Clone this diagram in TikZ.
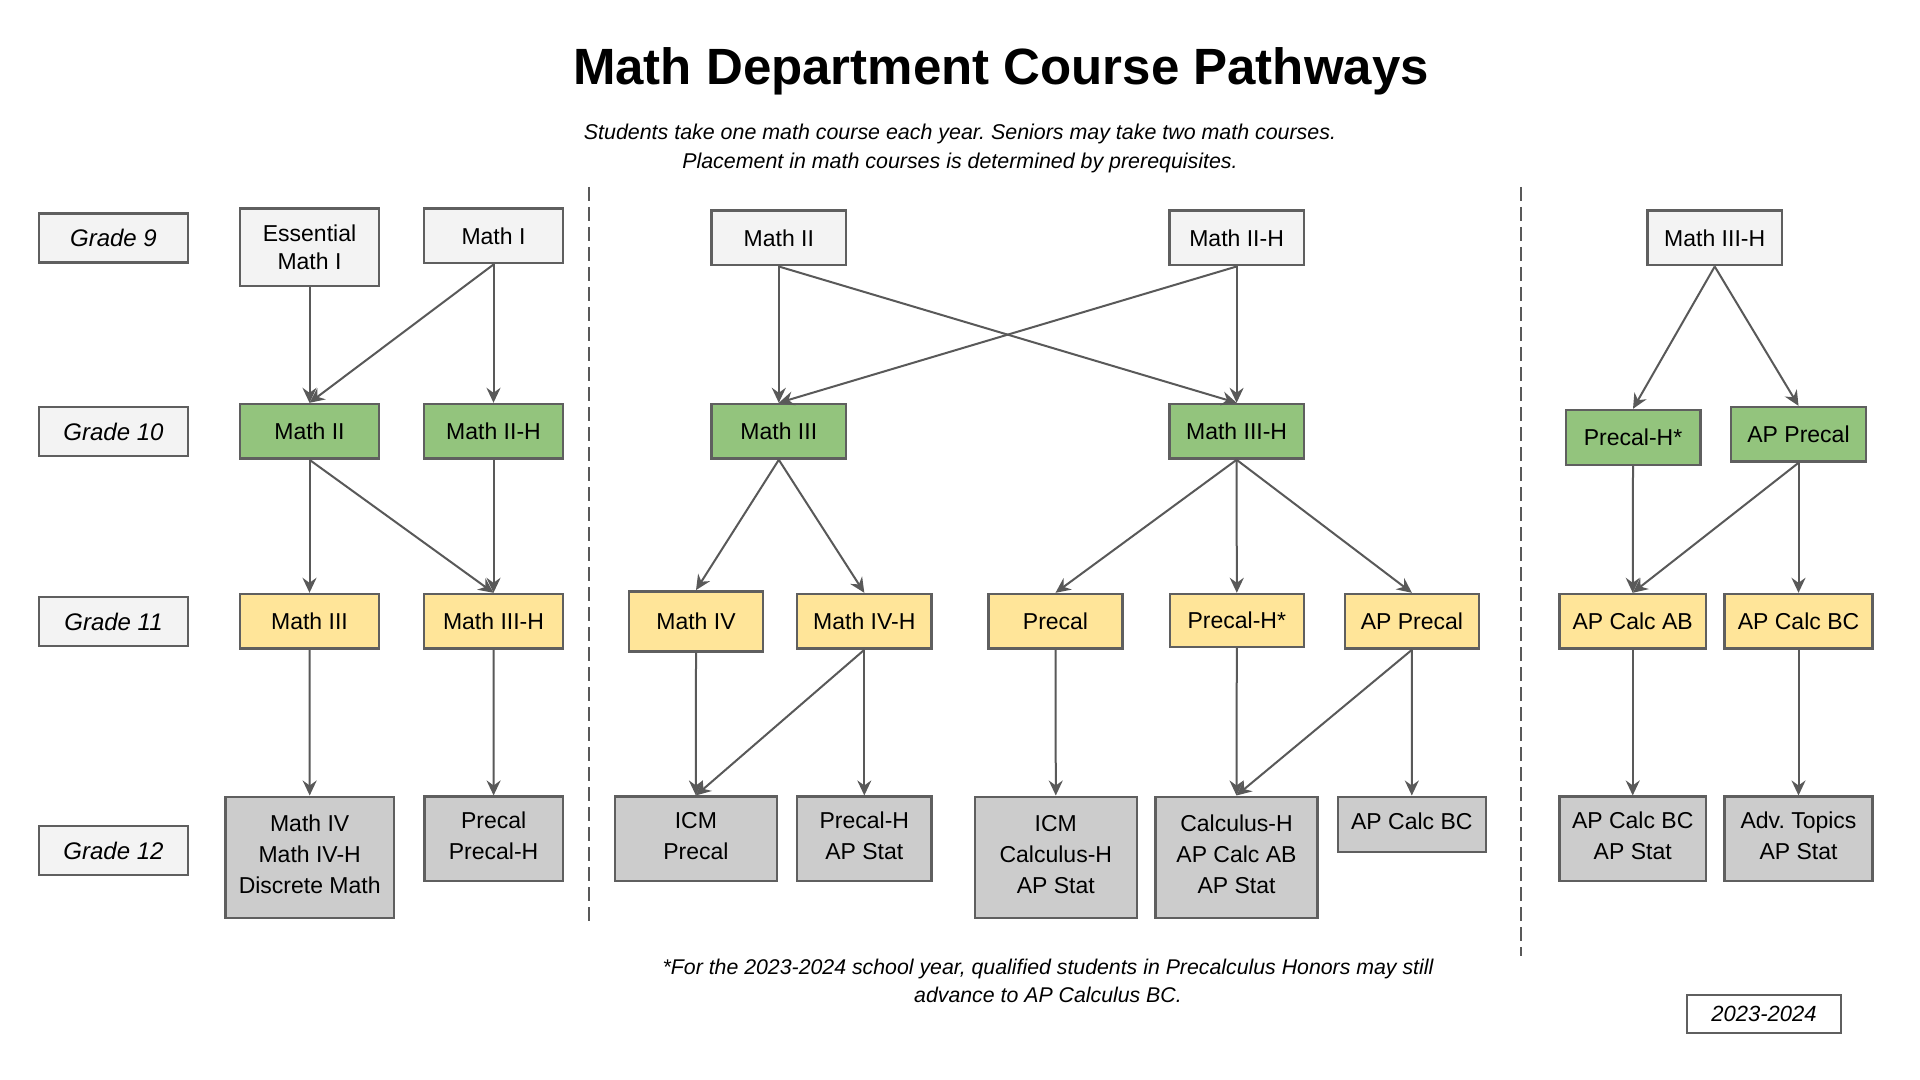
\documentclass[tikz,border=0pt]{standalone}
\usepackage{fontspec}
\setmainfont{Liberation Sans}
\usetikzlibrary{arrows.meta}
\frenchspacing
\definecolor{bordc}{HTML}{5F5F5F}
\definecolor{arrc}{HTML}{595959}
\definecolor{lgray}{HTML}{F3F3F3}
\definecolor{cgreen}{HTML}{93C47D}
\definecolor{cyellow}{HTML}{FFE599}
\definecolor{cgray}{HTML}{CCCCCC}
\tikzset{
  course/.style={draw=bordc, line width=1.2pt, inner sep=0pt, align=center,
    font=\fontsize{11.5}{15.8}\selectfont},
  topc/.style={course, fill=lgray},
  greenc/.style={course, fill=cgreen},
  yellowc/.style={course, fill=cyellow},
  grayc/.style={course, fill=cgray, font=\fontsize{11.5}{15.5}\selectfont,
    execute at end node={\rule[-3pt]{0pt}{3pt}}},
  grade/.style={draw=bordc, line width=1.2pt, fill=lgray, inner sep=0pt,
    minimum width=74.5pt, minimum height=24.5pt, font=\fontsize{12}{14}\itshape},
  arr/.style={draw=arrc, line width=1pt, -{Stealth[length=7.5pt,width=7pt,inset=2.5pt]}},
  sep/.style={draw=arrc, line width=1pt, dash pattern=on 7pt off 3pt},
}
\begin{document}
\begin{tikzpicture}[x=0.5pt,y=-0.5pt]
\useasboundingbox[fill=white] (0,0) rectangle (1920,1080);

% title and notes
\node[anchor=base, font=\fontsize{25.5}{30}\bfseries\selectfont] (title) at (1001,84.3) {Math Department Course Pathways};
\node[align=center, font=\fontsize{10.7}{14.4}\itshape\selectfont] (sub) at (960,148.2)
  {Students take one math course each year. Seniors may take two math courses.\\Placement in math courses is determined by prerequisites.};
\node[align=center, font=\fontsize{10.65}{13.85}\itshape\selectfont] (foot) at (1048,981)
  {*For the 2023-2024 school year, qualified students in Precalculus Honors may still\\advance to AP Calculus BC.};
\node[draw=bordc, line width=1pt, fill=white, inner sep=0pt, minimum width=76.7pt, minimum height=19.2pt,
  font=\fontsize{11}{13}\itshape\selectfont] (year) at (1764,1014) {2023-2024};

% grade labels
\node[grade] (g9) at (113.5,238) {Grade 9};
\node[grade] (g10) at (113.5,431.5) {Grade 10};
\node[grade] (g11) at (113.5,621.5) {Grade 11};
\node[grade] (g12) at (113.5,850.5) {Grade 12};

% separators
\coordinate (d1t) at (589,187);
\coordinate (d1b) at (589,927);
\coordinate (d2t) at (1521,187);
\coordinate (d2b) at (1521,956);
\draw[sep] (d1t) -- (d1b);
\draw[sep] (d2t) -- (d2b);

% section 1
\node[topc, font=\fontsize{11.5}{14.15}\selectfont, minimum width=69.5pt, minimum height=38.65pt] (ess) at (309.5,247.3) {Essential\\Math I};
\node[topc, minimum width=69.5pt, minimum height=27.3pt] (m1) at (493.5,236) {Math I};
\node[greenc, minimum width=69.5pt, minimum height=27.3pt] (m2g) at (309.5,431.3) {Math II};
\node[greenc, minimum width=69.5pt, minimum height=27.3pt] (m2hg) at (493.5,431.3) {Math II-H};
\node[yellowc, minimum width=69.5pt, minimum height=27.3pt] (m3y) at (309.5,621.3) {Math III};
\node[yellowc, minimum width=69.5pt, minimum height=27.3pt] (m3hy) at (493.5,621.3) {Math III-H};
\node[grayc, minimum width=84.2pt, minimum height=60.5pt] (s1a) at (309.7,857.2) {Math IV\\Math IV-H\\Discrete Math};
\node[grayc, minimum width=69.2pt, minimum height=42.15pt] (s1b) at (493.6,838.8) {Precal\\Precal-H};

% section 2
\node[topc, minimum width=67.2pt, minimum height=27.3pt] (t2a) at (778.8,238) {Math II};
\node[topc, minimum width=67.2pt, minimum height=27.3pt] (t2b) at (1236.6,238) {Math II-H};
\node[greenc, minimum width=67.2pt, minimum height=27.3pt] (g2a) at (778.8,431.3) {Math III};
\node[greenc, minimum width=67.2pt, minimum height=27.3pt] (g2b) at (1236.6,431.3) {Math III-H};
\node[yellowc, minimum width=67pt, minimum height=30pt] (y2a) at (696,621.3) {Math IV};
\node[yellowc, minimum width=67.3pt, minimum height=27.3pt] (y2b) at (864.3,621.3) {Math IV-H};
\node[yellowc, minimum width=67.1pt, minimum height=27.3pt] (y2c) at (1055.5,621.3) {Precal};
\node[yellowc, minimum width=67.1pt, minimum height=26.5pt] (y2d) at (1236.8,620.5) {Precal-H*};
\node[yellowc, minimum width=67.1pt, minimum height=27.3pt] (y2e) at (1411.9,621.3) {AP Precal};
\node[grayc, minimum width=81.1pt, minimum height=42.15pt] (r2a) at (695.9,838.8) {ICM\\Precal};
\node[grayc, minimum width=67.3pt, minimum height=42.15pt] (r2b) at (864.3,838.8) {Precal-H\\AP Stat};
\node[grayc, minimum width=81pt, minimum height=60.5pt] (r2c) at (1055.8,857.2) {ICM\\Calculus-H\\AP Stat};
\node[grayc, minimum width=81pt, minimum height=60.5pt] (r2d) at (1236.5,857.2) {Calculus-H\\AP Calc AB\\AP Stat};
\node[grayc, minimum width=73.9pt, minimum height=27.5pt] (r2e) at (1411.8,824.2) {AP Calc BC};

% section 3
\node[topc, minimum width=67.3pt, minimum height=27.3pt] (t3) at (1714.7,238) {Math III-H};
\node[greenc, minimum width=67.3pt, minimum height=27.5pt] (g3a) at (1633,437.5) {Precal-H*};
\node[greenc, minimum width=67.5pt, minimum height=27.3pt] (g3b) at (1798.5,434.3) {AP Precal};
\node[yellowc, minimum width=73.3pt, minimum height=27.3pt] (y3a) at (1632.7,621.3) {AP Calc AB};
\node[yellowc, minimum width=74pt, minimum height=27.3pt] (y3b) at (1798.5,621.3) {AP Calc BC};
\node[grayc, minimum width=73.3pt, minimum height=42.15pt] (r3a) at (1632.7,838.8) {AP Calc BC\\AP Stat};
\node[grayc, minimum width=74pt, minimum height=42.15pt] (r3b) at (1798.5,838.8) {Adv. Topics\\AP Stat};

% connectors
\draw[arr] (ess.south) -- (m2g.north);
\draw[arr] (m1.south) -- (m2g.north);
\draw[arr] (m1.south) -- (m2hg.north);
\draw[arr] (m2g.south) -- (m3y.north);
\draw[arr] (m2g.south) -- (m3hy.north);
\draw[arr] (m2hg.south) -- (m3hy.north);
\draw[arr] (m3y.south) -- (s1a.north);
\draw[arr] (m3hy.south) -- (s1b.north);

\draw[arr] (t2a.south) -- (g2a.north);
\draw[arr] (t2a.south) -- (g2b.north);
\draw[arr] (t2b.south) -- (g2a.north);
\draw[arr] (t2b.south) -- (g2b.north);
\draw[arr] (g2a.south) -- (y2a.north);
\draw[arr] (g2a.south) -- (y2b.north);
\draw[arr] (g2b.south) -- (y2c.north);
\draw[arr] (g2b.south) -- (y2d.north);
\draw[arr] (g2b.south) -- (y2e.north);
\draw[arr] (y2a.south) -- (r2a.north);
\draw[arr] (y2b.south) -- (r2a.north);
\draw[arr] (y2b.south) -- (r2b.north);
\draw[arr] (y2c.south) -- (r2c.north);
\draw[arr] (y2d.south) -- (r2d.north);
\draw[arr] (y2e.south) -- (r2d.north);
\draw[arr] (y2e.south) -- (r2e.north);

\draw[arr] (t3.south) -- (g3a.north);
\draw[arr] (t3.south) -- (g3b.north);
\draw[arr] (g3a.south) -- (y3a.north);
\draw[arr] (g3b.south) -- (y3a.north);
\draw[arr] (g3b.south) -- (y3b.north);
\draw[arr] (y3a.south) -- (r3a.north);
\draw[arr] (y3b.south) -- (r3b.north);
\end{tikzpicture}
\end{document}
